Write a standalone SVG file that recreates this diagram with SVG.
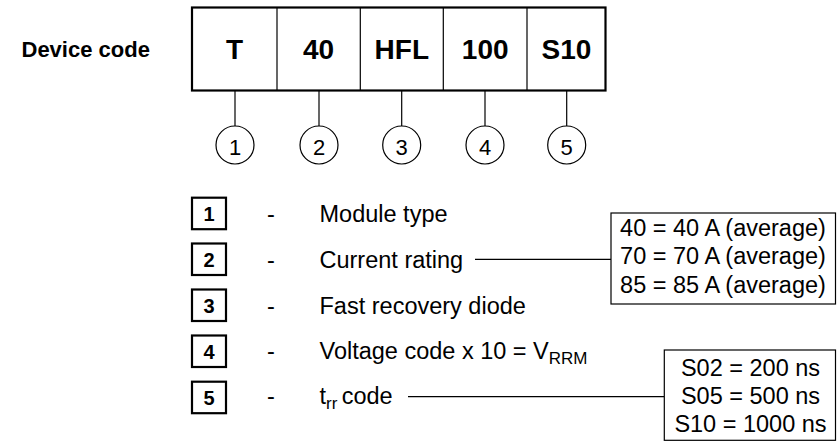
<svg xmlns="http://www.w3.org/2000/svg" width="837" height="441" viewBox="0 0 837 441">
<style>
text{font-family:"Liberation Sans",Arial,sans-serif;fill:#000}
.b{font-weight:bold}
.cell{font-size:28px;font-weight:bold;text-anchor:middle}
.t{font-size:23.5px}
.c{font-size:22px;text-anchor:middle}
.lg{font-size:20px;font-weight:bold;text-anchor:middle}
.sub{font-size:17px}
.thin{fill:none;stroke:#000;stroke-width:1.2}
.thick{fill:none;stroke:#000;stroke-width:2.2}
</style>
<rect width="837" height="441" fill="#fff"/>
<g id="title"><text class="b" x="21.5" y="56.5" style="font-size:22px">Device code</text></g>
<g id="code-box">
<rect class="thick" x="192" y="7.5" width="413.5" height="83"/>
<line class="thin" x1="277" y1="7.5" x2="277" y2="90.5"/>
<line class="thin" x1="360.3" y1="7.5" x2="360.3" y2="90.5"/>
<line class="thin" x1="443.3" y1="7.5" x2="443.3" y2="90.5"/>
<line class="thin" x1="527" y1="7.5" x2="527" y2="90.5"/>
<text class="cell" x="234.5" y="59.3">T</text>
<text class="cell" x="318.5" y="59.3">40</text>
<text class="cell" x="401.8" y="59.3">HFL</text>
<text class="cell" x="485.2" y="59.3">100</text>
<text class="cell" x="566.5" y="59.3">S10</text>
</g>
<g id="connectors">
<line class="thin" x1="235" y1="91" x2="235" y2="126"/>
<line class="thin" x1="319" y1="91" x2="319" y2="126"/>
<line class="thin" x1="401.7" y1="91" x2="401.7" y2="126"/>
<line class="thin" x1="485" y1="91" x2="485" y2="126"/>
<line class="thin" x1="566.7" y1="91" x2="566.7" y2="126"/>
<line class="thin" x1="475" y1="259.3" x2="611" y2="259.3"/>
<line class="thin" x1="408" y1="396.7" x2="664" y2="396.7"/>
</g>
<g id="circle-1"><circle class="thin" cx="235" cy="145" r="19"/><text class="c" x="235" y="155">1</text></g>
<g id="circle-2"><circle class="thin" cx="319" cy="145" r="19"/><text class="c" x="319" y="155">2</text></g>
<g id="circle-3"><circle class="thin" cx="401.7" cy="145" r="19"/><text class="c" x="401.7" y="155">3</text></g>
<g id="circle-4"><circle class="thin" cx="485" cy="145" r="19"/><text class="c" x="485" y="155">4</text></g>
<g id="circle-5"><circle class="thin" cx="566.7" cy="145" r="19"/><text class="c" x="566.7" y="155">5</text></g>
<g id="legend-1"><rect class="thick" x="192" y="197.7" width="34" height="31.5"/><text class="lg" x="209" y="220.7">1</text><text class="t" x="271" y="222.3" text-anchor="middle">-</text><text class="t" x="319.5" y="222.3">Module type</text></g>
<g id="legend-2"><rect class="thick" x="192" y="243.5" width="34" height="31.5"/><text class="lg" x="209" y="266.5">2</text><text class="t" x="271" y="268" text-anchor="middle">-</text><text class="t" x="319.5" y="268">Current rating</text></g>
<g id="legend-3"><rect class="thick" x="192" y="289.5" width="34" height="31.5"/><text class="lg" x="209" y="312.5">3</text><text class="t" x="271" y="313.5" text-anchor="middle">-</text><text class="t" x="319.5" y="313.5">Fast recovery diode</text></g>
<g id="legend-4"><rect class="thick" x="192" y="335.5" width="34" height="31.5"/><text class="lg" x="209" y="358.5">4</text><text class="t" x="271" y="359.3" text-anchor="middle">-</text><text class="t" x="319.5" y="359.3">Voltage code x 10 = V<tspan class="sub" dy="5">RRM</tspan></text></g>
<g id="legend-5"><rect class="thick" x="192" y="381.7" width="34" height="31.5"/><text class="lg" x="209" y="404.5">5</text><text class="t" x="271" y="404.3" text-anchor="middle">-</text><text class="t" x="319.5" y="404.3">t<tspan class="sub" dy="5">rr</tspan><tspan dy="-5" x="341.7">code</tspan></text></g>
<g id="current-values">
<rect class="thin" x="611" y="213" width="224.5" height="91"/>
<text class="t" x="723" y="235.5" text-anchor="middle">40 = 40 A (average)</text>
<text class="t" x="723" y="264" text-anchor="middle">70 = 70 A (average)</text>
<text class="t" x="723" y="292.5" text-anchor="middle">85 = 85 A (average)</text>
</g>
<g id="trr-values">
<rect class="thin" x="664.3" y="350" width="171.2" height="90.3"/>
<text class="t" x="750.5" y="376" text-anchor="middle">S02 = 200 ns</text>
<text class="t" x="750.5" y="404.3" text-anchor="middle">S05 = 500 ns</text>
<text class="t" x="750.5" y="431.8" text-anchor="middle">S10 = 1000 ns</text>
</g>
</svg>
